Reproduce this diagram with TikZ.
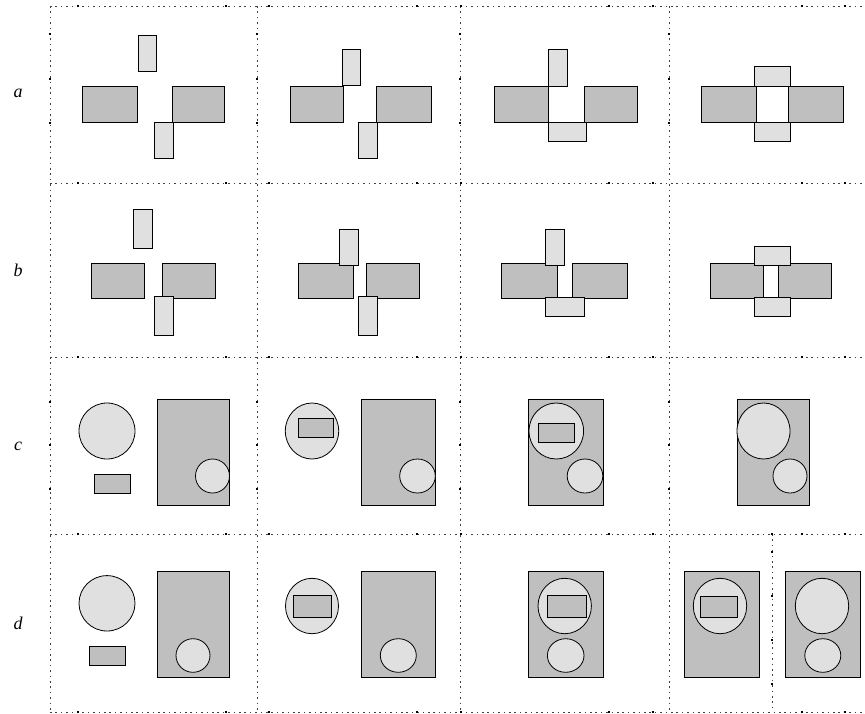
\documentclass[tikz,border=0pt]{standalone}
\usepackage{fontspec}
\setmainfont{Liberation Serif}
\begin{document}
\begin{tikzpicture}[x=1pt,y=-1pt,
  dk/.style={draw=black,line width=0.8pt,fill=black!25},
  lt/.style={draw=black,line width=0.8pt,fill=black!12},
  grid/.style={draw=black!75,line width=0.9pt,dash pattern=on 1.6pt off 3.8pt},
  mk/.style={fill=black},
  lbl/.style={font=\fontsize{18}{18}\selectfont\itshape,inner sep=0pt}]
\useasboundingbox (0,0) rectangle (865,713);
% grid
\foreach \y in {6,183,357,534,712} \draw[grid] (50,\y) -- (865,\y);
\foreach \x in {50,257,460,669} \draw[grid] (\x,6) -- (\x,712);
\draw[grid] (772,534) -- (772,712);
% markers
\foreach \y in {6,183,357,534,712}
  \foreach \x in {78,226,269,417,461,609,653,802,845}
    \fill[mk] (\x-1.3,\y-1.3) rectangle (\x+1.3,\y+1.3);
\foreach \x in {50,257,460,669}
  \foreach \y in {34,79,123,402,445,489}
    \fill[mk] (\x-1.3,\y-1.3) rectangle (\x+1.3,\y+1.3);
\foreach \y in {534,552,596,640,684}
  \fill[mk] (772-1.3,\y-1.3) rectangle (772+1.3,\y+1.3);
% labels
\node[lbl] (la) at (18,93) {a};
\node[lbl] (lb) at (18,270) {b};
\node[lbl] (lc) at (18,446) {c};
\node[lbl] (ld) at (18,623) {d};
% row a
\draw[dk] (82,86) rectangle (137,122);
\draw[dk] (172,86) rectangle (224,122);
\draw[lt] (138,35) rectangle (156,71);
\draw[lt] (154,122) rectangle (173,158);
\draw[dk] (290,86) rectangle (343,122);
\draw[dk] (376,86) rectangle (431,122);
\draw[lt] (342,49) rectangle (360,85.5);
\draw[lt] (358,122) rectangle (377,158);
\draw[dk] (494,86) rectangle (548,122);
\draw[dk] (584,86) rectangle (637,122);
\draw[lt] (548,49) rectangle (567,86);
\draw[lt] (548,122) rectangle (586,141);
\draw[dk] (701,86) rectangle (756,122);
\draw[dk] (788,86) rectangle (843,122);
\draw[lt] (754,66) rectangle (790,86);
\draw[lt] (754,122) rectangle (790,141);
% row b
\draw[dk] (91,263) rectangle (144,298);
\draw[dk] (162,263) rectangle (215,298);
\draw[lt] (133,209) rectangle (152,248);
\draw[lt] (154,296) rectangle (173,335);
\draw[dk] (298,263) rectangle (353,298);
\draw[dk] (366,263) rectangle (419,298);
\draw[lt] (339,229) rectangle (358,265);
\draw[lt] (358,296) rectangle (377,335);
\draw[dk] (501,263) rectangle (557,298);
\draw[dk] (572,263) rectangle (627,298);
\draw[lt] (545,229) rectangle (564,265);
\draw[lt] (545,297) rectangle (584,316);
\draw[dk] (710,263) rectangle (763,298);
\draw[dk] (778,263) rectangle (831,298);
\draw[lt] (754,246) rectangle (790,265);
\draw[lt] (754,297) rectangle (790,316);
% row c
\draw[lt] (107,431) ellipse [x radius=28,y radius=28];
\draw[dk] (94,474) rectangle (130,493);
\draw[dk] (157,399) rectangle (229,505);
\draw[lt] (212.5,476) ellipse [x radius=17,y radius=17];
\draw[lt] (312,431) ellipse [x radius=26.7,y radius=28];
\draw[dk] (298,418) rectangle (333,437);
\draw[dk] (361,399) rectangle (435,505);
\draw[lt] (417.5,476) ellipse [x radius=17.8,y radius=17];
\draw[dk] (528,399) rectangle (603,505);
\draw[lt] (556.3,431) ellipse [x radius=27.3,y radius=28];
\draw[dk] (538,423) rectangle (574,442);
\draw[lt] (585,476) ellipse [x radius=17.8,y radius=17];
\draw[dk] (737,399) rectangle (809,505);
\draw[lt] (763.5,431) ellipse [x radius=26.5,y radius=28];
\draw[lt] (790,476) ellipse [x radius=17,y radius=17];
% row d
\draw[lt] (107,603.3) ellipse [x radius=28,y radius=27.7];
\draw[dk] (89,646) rectangle (125,665);
\draw[dk] (157,571) rectangle (229,677);
\draw[lt] (193,655.5) ellipse [x radius=17,y radius=16.8];
\draw[lt] (312,606) ellipse [x radius=26.5,y radius=27.7];
\draw[dk] (293,595) rectangle (331,617);
\draw[dk] (361,571) rectangle (435,677);
\draw[lt] (398.3,655.5) ellipse [x radius=18,y radius=16.8];
\draw[dk] (528,571) rectangle (603,677);
\draw[lt] (564.7,606) ellipse [x radius=26.7,y radius=27.7];
\draw[dk] (547,595) rectangle (586,617);
\draw[lt] (565.7,655.5) ellipse [x radius=18.3,y radius=16.8];
\draw[dk] (684,571) rectangle (759,677);
\draw[lt] (720,606) ellipse [x radius=26.7,y radius=27.7];
\draw[dk] (700,596) rectangle (737,617);
\draw[dk] (785,571) rectangle (860,677);
\draw[lt] (822,606) ellipse [x radius=26.7,y radius=27.7];
\draw[lt] (822.8,655.5) ellipse [x radius=18,y radius=16.8];
\end{tikzpicture}
\end{document}
